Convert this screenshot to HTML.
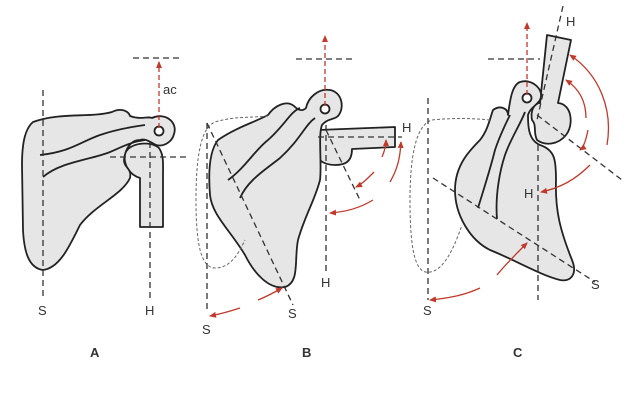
<!DOCTYPE html>
<html><head><style>
body{margin:0;background:#fff;width:633px;height:400px;overflow:hidden}
svg{display:block}
text{font-family:"Liberation Sans",sans-serif;font-size:13px;fill:#333}
</style></head><body>
<svg width="633" height="400" viewBox="0 0 633 400">
<defs>
<marker id="ar" markerWidth="8" markerHeight="8" refX="6" refY="4" orient="auto" markerUnits="userSpaceOnUse"><path d="M0,1 L7,4 L0,7 z" fill="#c0392b"/></marker>
</defs>
<g stroke="#222" stroke-width="1.8" fill="#e6e6e6" stroke-linejoin="round">
<!-- Panel A -->
<path d="M140,227 L140,178 C130,175 123,165 125,154 C128,143 150,140 159,148 C164,155 163,165 163,175 L163,227 Z"/>
<path d="M33,122 C60,112 90,118 112,112 C120,108 128,110 130,116 C140,120 148,116 152,118 C165,112 178,122 174,134 C172,142 164,147 156,145 C150,142 145,138 140,140 C130,140 125,150 124,160 C124,168 132,168 130,178 C122,195 95,205 80,225 C70,245 60,268 43,270 C28,268 24,250 23,230 L22,165 C22,140 26,128 33,122 Z"/>
<path d="M40,155 C70,152 80,142 100,135 C115,130 130,127 145,125" fill="none"/>
<path d="M43,177 C60,162 90,160 110,152 C120,148 130,142 145,140" fill="none"/>
<circle cx="159" cy="131" r="4.5" fill="#fff"/>
<!-- Panel B -->
<path d="M318,130 L395,127 L395,147 L352,149 C352,162 345,165 335,165 C322,165 315,158 314,148 C313,140 315,133 318,130 Z"/>
<path d="M218,140 C235,128 255,122 268,115 C275,105 287,100 294,106 C298,110 302,112 306,108 C308,98 318,88 330,90 C342,92 345,108 338,116 C334,120 328,118 322,125 C318,135 322,165 320,180 C315,200 305,215 298,240 C294,260 300,282 285,287 C270,290 255,275 245,255 C230,230 212,215 210,195 C208,170 210,150 218,140 Z"/>
<path d="M228,180 C245,168 255,150 268,140 C285,125 290,112 300,108" fill="none"/>
<path d="M240,198 C248,180 265,170 280,158 C300,140 305,125 315,118" fill="none"/>
<circle cx="325" cy="109" r="4.5" fill="#fff"/>
<!-- Panel C -->
<path d="M547,35 L571,40 L558,103 C572,104 574,125 566,135 C558,145 545,146 537,140 C533,132 537,125 532,120 C530,110 535,103 540,103 Z"/>
<path d="M493,110 C500,105 508,108 508,115 C510,100 512,85 520,82 C532,78 545,90 540,100 C536,106 530,108 528,115 C528,125 528,140 540,145 C555,150 556,160 556,180 C555,210 560,230 572,260 C578,275 570,282 560,280 C540,275 515,260 490,250 C470,240 455,215 455,190 C455,165 470,150 480,140 C488,130 490,118 493,110 Z"/>
<path d="M478,208 C485,185 490,170 495,150 C500,135 505,125 510,115" fill="none"/>
<path d="M497,219 C495,195 500,170 505,155 C510,140 520,125 525,112" fill="none"/>
<circle cx="527" cy="98" r="4.5" fill="#fff"/>
</g>
<g stroke="#666" stroke-width="1" fill="none" stroke-dasharray="3,2">
<path d="M268,116 C250,118 235,116 215,122 C200,128 196,160 196,200 C196,240 200,268 215,268 C230,268 238,255 245,240"/>
<path d="M490,120 C470,118 450,118 432,120 C415,125 410,160 410,200 C410,250 415,275 430,272 C445,270 455,245 462,225"/>
</g>
<g stroke="#333" stroke-width="1.3" fill="none" stroke-dasharray="6,4">
<line x1="43" y1="90" x2="43" y2="298"/>
<line x1="150" y1="142" x2="150" y2="300"/>
<line x1="110" y1="157" x2="188" y2="157"/>
<line x1="133" y1="58" x2="183" y2="58"/>
<line x1="207" y1="123" x2="207" y2="312"/>
<line x1="207" y1="123" x2="293" y2="305"/>
<line x1="326" y1="125" x2="326" y2="275"/>
<line x1="318" y1="137" x2="402" y2="137"/>
<line x1="326" y1="130" x2="360" y2="200"/>
<line x1="296" y1="59" x2="356" y2="59"/>
<line x1="428" y1="98" x2="428" y2="300"/>
<line x1="433" y1="178" x2="595" y2="282"/>
<line x1="563" y1="6" x2="537" y2="120"/>
<line x1="537" y1="115" x2="622" y2="180"/>
<line x1="538" y1="145" x2="538" y2="300"/>
<line x1="488" y1="59" x2="540" y2="59"/>
</g>
<g stroke="#c0392b" stroke-width="1.3" fill="none">
<line x1="159" y1="128" x2="159" y2="62" stroke-dasharray="5,3" marker-end="url(#ar)"/>
<line x1="325" y1="106" x2="325" y2="36" stroke-dasharray="5,3" marker-end="url(#ar)"/>
<line x1="527" y1="95" x2="527" y2="23" stroke-dasharray="5,3" marker-end="url(#ar)"/>
<path d="M240,308 C228,312 220,314 210,316" marker-end="url(#ar)"/>
<path d="M258,300 C268,296 275,292 282,288" marker-end="url(#ar)"/>
<path d="M373,200 C360,208 345,212 330,213" marker-end="url(#ar)"/>
<path d="M390,182 C398,168 400,158 401,142" marker-end="url(#ar)"/>
<path d="M374,172 C366,180 362,184 356,187" marker-end="url(#ar)"/>
<path d="M382,157 C385,150 386,145 386,140" marker-end="url(#ar)"/>
<path d="M590,165 C575,180 560,188 541,192" marker-end="url(#ar)"/>
<path d="M607,145 C613,110 600,75 570,55" marker-end="url(#ar)"/>
<path d="M586,118 C586,100 578,88 566,80" marker-end="url(#ar)"/>
<path d="M588,130 C586,140 583,148 580,150" marker-end="url(#ar)"/>
<path d="M480,288 C465,295 450,298 430,300" marker-end="url(#ar)"/>
<path d="M497,275 C505,265 515,255 527,243" marker-end="url(#ar)"/>
</g>
<text x="163" y="94">ac</text>
<text x="38" y="315">S</text>
<text x="145" y="315">H</text>
<text x="202" y="334">S</text>
<text x="288" y="318">S</text>
<text x="321" y="287">H</text>
<text x="402" y="132">H</text>
<text x="423" y="315">S</text>
<text x="591" y="289">S</text>
<text x="566" y="26">H</text>
<text x="524" y="198">H</text>
<text x="90" y="357" style="font-weight:bold">A</text>
<text x="302" y="357" style="font-weight:bold">B</text>
<text x="513" y="357" style="font-weight:bold">C</text>
</svg>
</body></html>
